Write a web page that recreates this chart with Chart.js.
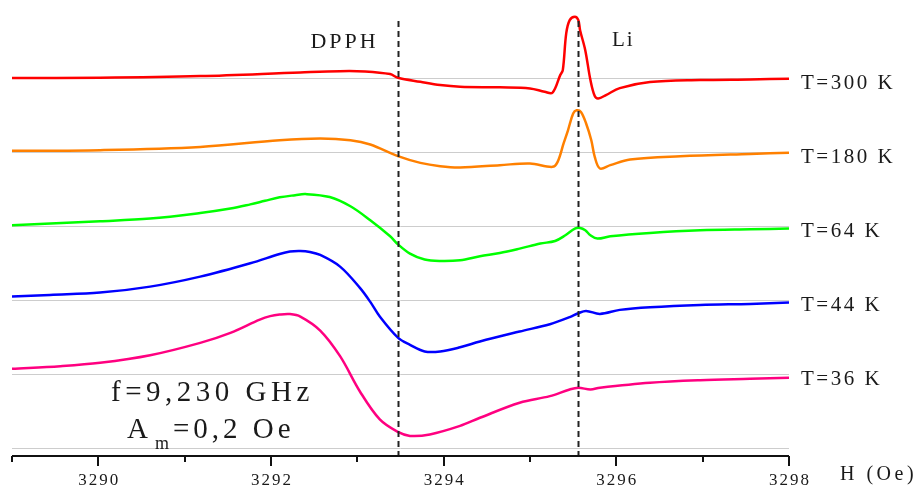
<!DOCTYPE html>
<html>
<head>
<meta charset="utf-8">
<script src="https://cdn.jsdelivr.net/npm/chart.js@4.4.1/dist/chart.umd.min.js"></script>
<style>
  html, body { margin: 0; padding: 0; background: #fff; }
  #wrap { width: 916px; height: 487px; }
</style>
</head>
<body>
<div id="wrap"><canvas id="esrChart"></canvas></div>
<script>
// Field sweep H (Oe) and derivative ESR signal (a.u.) for each temperature
const field300 = [3289.00, 3290.02, 3291.18, 3292.34, 3292.80, 3293.09, 3293.38, 3293.47, 3293.73, 3293.96, 3294.19, 3294.65, 3295.00, 3295.17, 3295.26, 3295.35, 3295.38, 3295.42, 3295.46, 3295.52, 3295.56, 3295.58, 3295.64, 3295.70, 3295.75, 3295.79, 3295.88, 3296.04, 3296.39, 3296.97, 3297.55, 3298.00];
const signal300 = [0, 0.04, 0.27, 0.77, 0.94, 0.9, 0.54, 0.04, -0.5, -0.94, -1.17, -1.25, -1.39, -1.85, -1.98, 0.4, 1.08, 6.06, 7.82, 8.29, 7.82, 6.47, 3.77, -0.27, -2.43, -2.74, -2.29, -1.35, -0.54, -0.27, -0.18, -0.09];

const field180 = [3289.00, 3290.02, 3291.18, 3292.10, 3292.57, 3292.92, 3293.15, 3293.47, 3293.73, 3293.96, 3294.19, 3294.65, 3295.00, 3295.26, 3295.32, 3295.39, 3295.44, 3295.50, 3295.54, 3295.59, 3295.65, 3295.71, 3295.75, 3295.81, 3295.93, 3296.16, 3296.74, 3297.55, 3298.00];
const signal180 = [0.18, 0.27, 0.71, 1.62, 1.85, 1.62, 1.04, -0.54, -1.44, -1.89, -2.06, -1.75, -1.52, -1.98, -1.31, 1.21, 2.96, 5.22, 5.66, 5.43, 3.87, 1.62, -0.63, -2.2, -1.75, -0.98, -0.54, -0.23, -0.09];

const field64 = [3289.00, 3290.02, 3290.60, 3291.18, 3291.53, 3291.76, 3291.93, 3292.10, 3292.28, 3292.40, 3292.68, 3292.92, 3293.15, 3293.38, 3293.47, 3293.61, 3293.78, 3293.96, 3294.19, 3294.42, 3294.65, 3294.88, 3295.12, 3295.29, 3295.41, 3295.52, 3295.58, 3295.64, 3295.70, 3295.78, 3295.93, 3296.39, 3296.97, 3297.55, 3298.00];
const signal64 = [0.13, 0.67, 1.04, 1.79, 2.39, 2.96, 3.44, 3.91, 4.2, 4.35, 3.95, 2.7, 0.81, -1.35, -2.43, -3.68, -4.49, -4.68, -4.58, -4.04, -3.6, -3.01, -2.33, -1.98, -1.21, -0.31, -0.23, -0.54, -1.21, -1.66, -1.35, -0.9, -0.54, -0.4, -0.31];

const field44 = [3289.00, 3289.44, 3290.02, 3290.60, 3291.18, 3291.76, 3292.10, 3292.22, 3292.34, 3292.45, 3292.57, 3292.80, 3293.03, 3293.15, 3293.26, 3293.47, 3293.61, 3293.78, 3293.96, 3294.19, 3294.42, 3294.88, 3295.23, 3295.46, 3295.56, 3295.65, 3295.81, 3296.04, 3296.39, 3296.97, 3297.55, 3298.00];
const signal44 = [0.51, 0.74, 1.05, 1.86, 3.21, 5.01, 6.27, 6.6, 6.67, 6.54, 6.13, 4.56, 1.69, -0.2, -2.18, -5.03, -6.0, -6.9, -6.9, -6.33, -5.55, -4.2, -3.21, -2.26, -1.73, -1.42, -1.82, -1.28, -0.92, -0.61, -0.47, -0.3];

const field36 = [3289.00, 3289.56, 3290.02, 3290.60, 3291.18, 3291.53, 3291.87, 3291.99, 3292.10, 3292.22, 3292.34, 3292.57, 3292.80, 3293.03, 3293.26, 3293.47, 3293.61, 3293.84, 3294.19, 3294.42, 3294.88, 3295.23, 3295.46, 3295.56, 3295.70, 3295.81, 3296.39, 3296.97, 3297.55, 3298.00];
const signal36 = [0.77, 1.12, 1.58, 2.6, 4.27, 5.62, 7.41, 7.88, 8.09, 8.15, 7.82, 5.93, 2.47, -2.29, -6.06, -7.75, -8.29, -8.09, -6.94, -5.84, -3.81, -2.92, -2.02, -1.79, -2.02, -1.79, -1.12, -0.77, -0.58, -0.44];

const tempLabels = ['T=300 K', 'T=180 K', 'T=64 K', 'T=44 K', 'T=36 K'];
const baselines = [50, 40, 30, 20, 10];
const lineColors = ['#ff0000', '#ff8000', '#00ff00', '#0000ff', '#ff0080'];
const baselineTicks = [0, 10, 20, 30, 40, 50];
const fieldTicks = [3290, 3292, 3294, 3296, 3298];
const dpphField = 3293.47;
const liField = 3295.56;

const fields = [field300, field180, field64, field44, field36];
const signals = [signal300, signal180, signal64, signal44, signal36];

const datasets = fields.map((f, i) => ({
  label: tempLabels[i],
  data: f.map((h, k) => ({ x: h, y: signals[i][k] + baselines[i] })),
  borderColor: lineColors[i],
  borderWidth: 2.5,
  pointRadius: 0,
  tension: 0.35,
  fill: false
}));

const SERIF = '"Liberation Serif", "Times New Roman", serif';

function spacedText(ctx, text, x, y, size, spacing, align) {
  ctx.font = size + 'px ' + SERIF;
  ctx.letterSpacing = spacing + 'px';
  let w = ctx.measureText(text).width - spacing;
  let x0 = x;
  if (align === 'center') x0 = x - w / 2;
  if (align === 'right') x0 = x - w;
  ctx.textAlign = 'left';
  ctx.fillText(text, x0, y);
}

// dashed markers, axis ticks and all annotation text
const decorations = {
  id: 'decorations',
  afterDraw(chart) {
    const ctx = chart.ctx;
    const xs = chart.scales.x;
    const ys = chart.scales.y;
    const area = chart.chartArea;
    ctx.save();

    // reference markers
    ctx.strokeStyle = '#222';
    ctx.lineWidth = 2;
    ctx.setLineDash([6, 4]);
    [dpphField, liField].forEach(h => {
      const px = Math.round(xs.getPixelForValue(h)) + 0.5;
      ctx.beginPath();
      ctx.moveTo(px, 21);
      ctx.lineTo(px, area.bottom);
      ctx.stroke();
    });
    ctx.setLineDash([]);

    // field axis line and ticks
    ctx.strokeStyle = '#111';
    ctx.lineWidth = 2;
    ctx.beginPath();
    ctx.moveTo(area.left, area.bottom);
    ctx.lineTo(area.right, area.bottom);
    ctx.stroke();
    for (let h = 3289; h <= 3298; h++) {
      const px = Math.round(xs.getPixelForValue(h));
      const len = fieldTicks.includes(h) ? 10 : 6;
      ctx.beginPath();
      ctx.moveTo(px, area.bottom);
      ctx.lineTo(px, area.bottom + len);
      ctx.stroke();
    }

    ctx.fillStyle = '#1a1a1a';
    ctx.textBaseline = 'alphabetic';
    fieldTicks.forEach(h => {
      spacedText(ctx, String(h), xs.getPixelForValue(h), 485, 17, 2, 'center');
    });
    spacedText(ctx, 'H (Oe)', 840, 480, 20, 3.5, 'left');

    // temperature labels at the right of each trace
    tempLabels.forEach((t, i) => {
      const py = ys.getPixelForValue(baselines[i]);
      spacedText(ctx, t, 801, py + 10.5, 21, 2.5, 'left');
    });

    spacedText(ctx, 'DPPH', 343, 48, 22, 3, 'center');
    spacedText(ctx, 'Li', 612, 46, 21, 2, 'left');

    spacedText(ctx, 'f=9,230 GHz', 111, 401, 29, 4.5, 'left');
    spacedText(ctx, 'A', 127, 438, 29, 0, 'left');
    spacedText(ctx, 'm', 155, 449, 18, 0, 'left');
    spacedText(ctx, '=0,2 Oe', 173, 438, 29, 4, 'left');

    ctx.restore();
  }
};

const chart = new Chart(document.getElementById('esrChart'), {
  type: 'line',
  data: { datasets },
  options: {
    responsive: true,
    maintainAspectRatio: false,
    animation: false,
    events: [],
    layout: { padding: { left: 12, right: 127, top: 4, bottom: 0 } },
    plugins: {
      legend: { display: false },
      tooltip: { enabled: false }
    },
    scales: {
      x: {
        type: 'linear',
        min: 3289,
        max: 3298,
        grid: { display: false },
        border: { display: false },
        ticks: { display: false },
        afterFit: s => { s.height = 31; }
      },
      y: {
        min: -1,
        max: 60,
        grid: { color: '#cdcdcd', lineWidth: 1, drawTicks: false },
        border: { display: false },
        ticks: { display: false },
        afterBuildTicks: s => { s.ticks = baselineTicks.map(v => ({ value: v })); },
        afterFit: s => { s.width = 0; }
      }
    }
  },
  plugins: [decorations]
});
</script>
</body>
</html>
